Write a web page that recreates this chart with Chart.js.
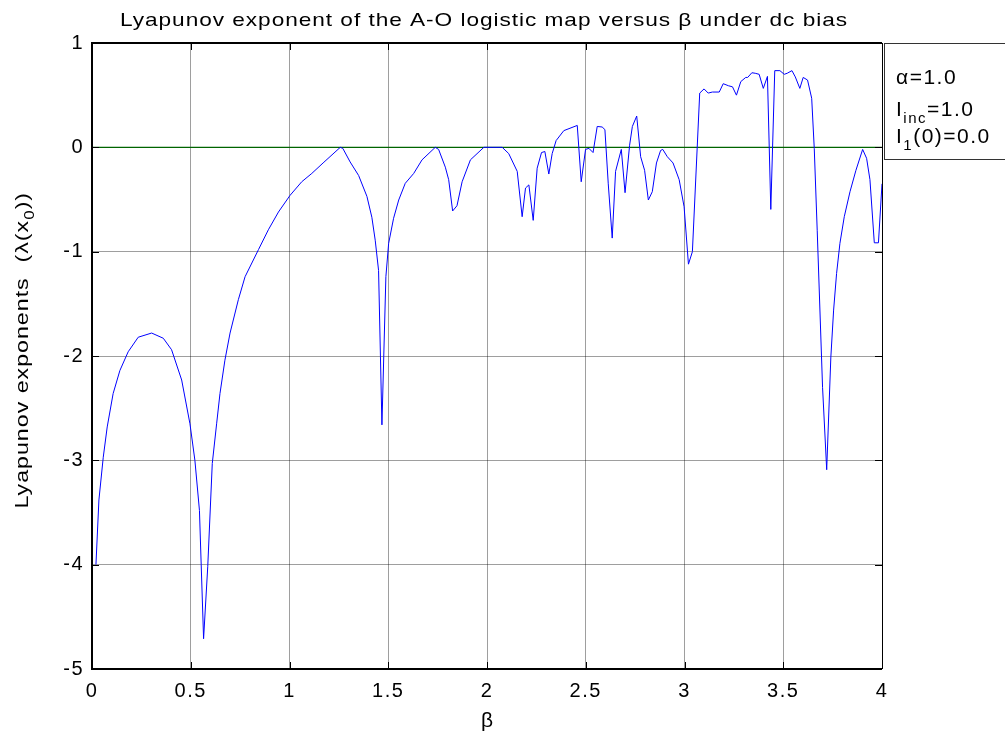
<!DOCTYPE html>
<html>
<head>
<meta charset="utf-8">
<title>Lyapunov exponent vs beta</title>
<script src="https://cdn.jsdelivr.net/npm/chart.js@4.4.1/dist/chart.umd.min.js"></script>
<style>
  html, body { margin: 0; padding: 0; background: #fff; }
  #wrap { width: 1005px; height: 739px; }
</style>
</head>
<body>
<div id="wrap"><canvas id="lyap" width="1005" height="739"></canvas></div>
<script>
/* ── data ── */
const betaValues = [
  0.02, 0.035, 0.057, 0.077, 0.107, 0.141, 0.183, 0.234, 0.302, 0.361,
  0.403, 0.454, 0.496, 0.521, 0.544, 0.565, 0.586, 0.609, 0.631, 0.648,
  0.673, 0.699, 0.741, 0.775, 0.843, 0.893, 0.944, 1.003, 1.062, 1.113,
  1.17, 1.257, 1.27, 1.307, 1.35, 1.392, 1.417, 1.434, 1.451, 1.468,
  1.488, 1.502, 1.527, 1.553, 1.586, 1.629, 1.671, 1.738, 1.755, 1.789,
  1.806, 1.826, 1.848, 1.874, 1.916, 1.984, 2.03, 2.077, 2.11, 2.153,
  2.178, 2.195, 2.212, 2.234, 2.254, 2.276, 2.293, 2.313, 2.33, 2.35,
  2.389, 2.457, 2.477, 2.499, 2.516, 2.537, 2.558, 2.583, 2.597, 2.614,
  2.634, 2.651, 2.68, 2.699, 2.722, 2.736, 2.758, 2.778, 2.798, 2.817,
  2.837, 2.858, 2.879, 2.89, 2.913, 2.942, 2.973, 2.998, 3.02, 3.04,
  3.077, 3.099, 3.12, 3.141, 3.176, 3.196, 3.223, 3.243, 3.263, 3.285,
  3.31, 3.32, 3.341, 3.358, 3.378, 3.399, 3.42, 3.437, 3.457, 3.483,
  3.505, 3.52, 3.544, 3.561, 3.584, 3.601, 3.623, 3.644, 3.657, 3.672,
  3.699, 3.72, 3.741, 3.755, 3.77, 3.787, 3.809, 3.838, 3.868, 3.902,
  3.922, 3.939, 3.961, 3.982, 4.0
];
const lyapValues = [
  -4.0, -3.38, -2.97, -2.68, -2.36, -2.14, -1.96, -1.82, -1.78, -1.83,
  -1.94, -2.23, -2.65, -3.0, -3.48, -4.71, -4.02, -3.03, -2.65, -2.36,
  -2.04, -1.78, -1.46, -1.24, -0.98, -0.79, -0.62, -0.46, -0.33, -0.25,
  -0.15, 0.0, -0.01, -0.14, -0.27, -0.47, -0.67, -0.89, -1.18, -2.66,
  -1.24, -0.92, -0.68, -0.505, -0.345, -0.25, -0.12, 0.0, -0.02, -0.19,
  -0.31, -0.61, -0.56, -0.33, -0.12, 0.0, 0.0, 0.0, -0.06, -0.23,
  -0.665, -0.39, -0.36, -0.70, -0.20, -0.05, -0.04, -0.256, -0.06, 0.065,
  0.16, 0.21, -0.33, -0.02, -0.01, -0.05, 0.20, 0.195, 0.17, -0.35,
  -0.87, -0.23, -0.02, -0.435, 0.02, 0.20, 0.30, -0.09, -0.22, -0.505,
  -0.425, -0.15, -0.03, -0.02, -0.09, -0.15, -0.31, -0.57, -1.12, -1.0,
  0.52, 0.56, 0.52, 0.53, 0.53, 0.61, 0.59, 0.58, 0.50, 0.63,
  0.67, 0.67, 0.715, 0.71, 0.70, 0.565, 0.68, -0.595, 0.735, 0.735,
  0.70, 0.71, 0.735, 0.675, 0.565, 0.67, 0.645, 0.47, -0.01, -0.8,
  -2.3, -3.09, -2.01, -1.56, -1.21, -0.92, -0.665, -0.425, -0.22, -0.02,
  -0.105, -0.31, -0.915, -0.915, -0.35
];
const zeroLine = [0, 0];
const zeroLineX = [0, 4];
const xTicks = [0, 0.5, 1, 1.5, 2, 2.5, 3, 3.5, 4];
const yTicks = [1, 0, -1, -2, -3, -4, -5];

const titleText = 'Lyapunov exponent of the A-O logistic map versus \u03b2 under dc bias';
const legendLines = [
  [{ t: '\u03b1=1.0' }],
  [{ t: 'I' }, { t: 'inc', sub: true }, { t: '=1.0' }],
  [{ t: 'I' }, { t: '1', sub: true }, { t: '(0)=0.0' }]
];
const yLabelParts = [{ t: 'Lyapunov exponents  (\u03bb(x' }, { t: '0', sub: true }, { t: '))' }];

const FONT = '"Liberation Sans", Arial, sans-serif';

/* ── helper: text with subscripts ── */
function richWidth(ctx, parts, size, subSize) {
  let w = 0;
  parts.forEach(p => {
    ctx.font = (p.sub ? subSize : size) + 'px ' + FONT;
    w += ctx.measureText(p.t).width;
  });
  return w;
}
function drawRich(ctx, parts, x, y, size, subSize, subDrop) {
  let cx = x;
  parts.forEach(p => {
    ctx.font = (p.sub ? subSize : size) + 'px ' + FONT;
    ctx.fillText(p.t, cx, p.sub ? y + subDrop : y);
    cx += ctx.measureText(p.t).width;
  });
}

/* ── MATLAB-like decorations ── */
const matlabFrame = {
  id: 'matlabFrame',
  beforeDraw(chart) {
    chart.ctx.letterSpacing = '1.5px';
  },
  afterDraw(chart) {
    const ctx = chart.ctx;
    const a = chart.chartArea;
    const xs = chart.scales.x, ys = chart.scales.y;
    ctx.save();
    ctx.letterSpacing = '0px';
    ctx.fillStyle = '#000';
    ctx.strokeStyle = '#000';

    // inside tick marks on all four sides
    ctx.lineWidth = 1;
    ctx.beginPath();
    xTicks.forEach(v => {
      const px = Math.round(xs.getPixelForValue(v)) + 0.5;
      ctx.moveTo(px, a.bottom); ctx.lineTo(px, a.bottom - 7);
      ctx.moveTo(px, a.top); ctx.lineTo(px, a.top + 7);
    });
    yTicks.forEach(v => {
      const py = Math.round(ys.getPixelForValue(v)) + 0.5;
      ctx.moveTo(a.left, py); ctx.lineTo(a.left + 7, py);
      ctx.moveTo(a.right, py); ctx.lineTo(a.right - 7, py);
    });
    ctx.stroke();

    // box
    ctx.lineWidth = 2;
    ctx.beginPath();
    ctx.moveTo(a.right, a.top); ctx.lineTo(a.left, a.top);
    ctx.lineTo(a.left, a.bottom); ctx.lineTo(a.right, a.bottom);
    ctx.stroke();
    ctx.lineWidth = 1;
    ctx.beginPath();
    ctx.moveTo(Math.round(a.right) + 0.5, a.top); ctx.lineTo(Math.round(a.right) + 0.5, a.bottom);
    ctx.stroke();

    // title, widened like the MATLAB export
    ctx.save();
    ctx.font = '19px ' + FONT;
    ctx.textBaseline = 'alphabetic';
    ctx.textAlign = 'left';
    ctx.letterSpacing = '0.8px';
    const tw = ctx.measureText(titleText).width;
    const sx = 728 / tw;
    ctx.scale(sx, 1);
    ctx.fillText(titleText, 120 / sx, 26);
    ctx.restore();

    // x axis label
    ctx.font = '21px ' + FONT;
    ctx.textAlign = 'center';
    ctx.fillText('\u03b2', (a.left + a.right) / 2, 727);

    // y axis label (rotated), widened to the reference length
    ctx.save();
    ctx.translate(28, 337);
    ctx.rotate(-Math.PI / 2);
    ctx.textAlign = 'left';
    ctx.letterSpacing = '0.8px';
    const nChars = yLabelParts.reduce((n, p) => n + p.t.length, 0);
    const yw = richWidth(ctx, yLabelParts, 19, 14) + 0.8 * nChars;
    const sy = 343 / yw;
    ctx.scale(sy, 1);
    drawRich(ctx, yLabelParts, -yw / 2, 0, 19, 14, 6);
    ctx.restore();

    // legend box
    ctx.fillStyle = '#fff';
    ctx.fillRect(884.5, 43.5, 130, 116);
    ctx.strokeStyle = '#333';
    ctx.lineWidth = 1;
    ctx.strokeRect(884.5, 43.5, 130, 116);
    ctx.fillStyle = '#000';
    ctx.textAlign = 'left';
    ctx.letterSpacing = '1.5px';
    const baselines = [84, 116, 143];
    legendLines.forEach((parts, i) => {
      drawRich(ctx, parts, 896, baselines[i], 21, 15, 7);
    });
    ctx.restore();
  }
};

const points = betaValues.map((b, i) => ({ x: b, y: lyapValues[i] }));
const zeroPts = zeroLineX.map((b, i) => ({ x: b, y: zeroLine[i] }));

new Chart(document.getElementById('lyap'), {
  type: 'line',
  data: {
    datasets: [
      {
        label: 'lambda',
        data: points,
        borderColor: '#0000ff',
        borderWidth: 1,
        pointRadius: 0,
        tension: 0,
        fill: false
      },
      {
        label: 'zero',
        data: zeroPts,
        borderColor: '#006400',
        borderWidth: 1.3,
        pointRadius: 0,
        fill: false
      }
    ]
  },
  options: {
    responsive: false,
    animation: false,
    events: [],
    layout: { padding: { top: 43, right: 123, left: 0, bottom: 0 } },
    plugins: {
      legend: { display: false },
      title: { display: false },
      tooltip: { enabled: false }
    },
    scales: {
      x: {
        type: 'linear',
        min: 0,
        max: 4,
        afterFit: s => { s.height = 70; },
        afterBuildTicks: s => { s.ticks = xTicks.map(v => ({ value: v })); },
        grid: { color: 'rgba(0,0,0,0.38)', lineWidth: 1, drawTicks: false },
        border: { display: false },
        ticks: {
          color: '#000',
          padding: 10,
          maxRotation: 0,
          font: { family: FONT, size: 20 },
          callback: v => String(v)
        }
      },
      y: {
        type: 'linear',
        min: -5,
        max: 1,
        afterFit: s => { s.width = 92; },
        afterBuildTicks: s => { s.ticks = yTicks.map(v => ({ value: v })); },
        grid: { color: 'rgba(0,0,0,0.38)', lineWidth: 1, drawTicks: false },
        border: { display: false },
        ticks: {
          color: '#000',
          padding: 8,
          font: { family: FONT, size: 20 },
          callback: v => String(v)
        }
      }
    }
  },
  plugins: [matlabFrame]
});
</script>
</body>
</html>
